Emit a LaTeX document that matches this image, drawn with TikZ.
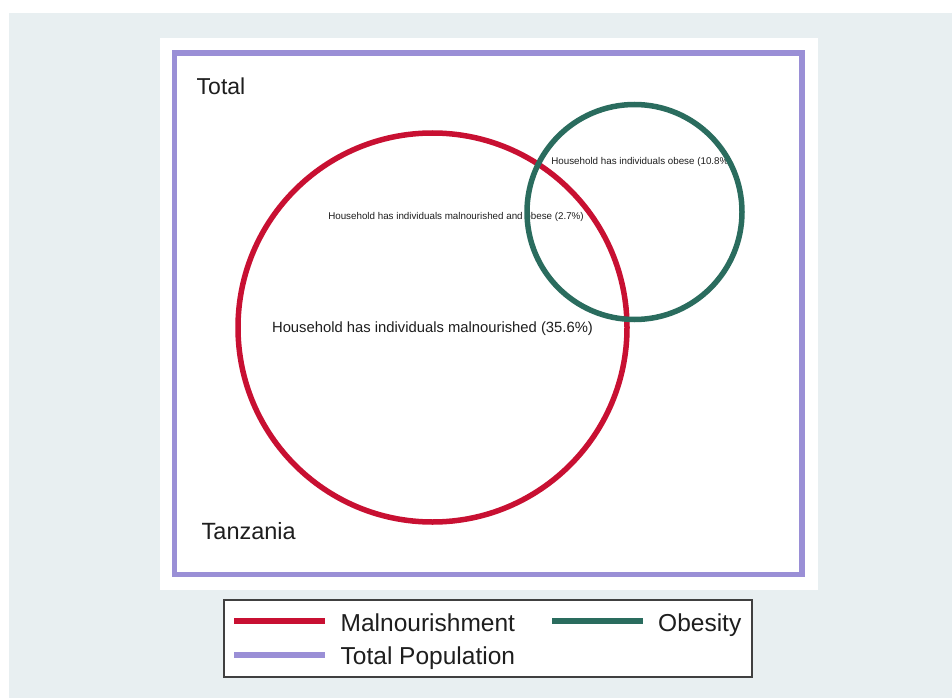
\documentclass[tikz,border=0pt]{standalone}
\usepackage{fontspec}
\setmainfont{Liberation Sans}
\definecolor{bgray}{RGB}{232,239,241}
\definecolor{malred}{RGB}{200,16,50}
\definecolor{obgreen}{RGB}{42,108,94}
\definecolor{totpurple}{RGB}{154,143,214}
\definecolor{txt}{RGB}{30,30,30}
\tikzset{
  lbl/.style={inner sep=0pt, text=txt},
  venn/.style={circle, draw, inner sep=0pt, line width=5.5bp},
  legline/.style={line width=6bp},
}
\newcommand{\fsz}[1]{\fontsize{#1bp}{#1bp}\selectfont}
\begin{document}
\begin{tikzpicture}[x=1bp,y=-1bp]
\useasboundingbox (0,0) rectangle (952,698);
\fill[white] (0,0) rectangle (952,698);
\fill[bgray] (9,13) rectangle (952,698);
\fill[white] (159.5,38.3) rectangle (817.7,590);
% total population frame
\node[draw=totpurple, line width=5.6bp, inner sep=0pt, minimum width=627.5bp, minimum height=521.5bp] (frame) at (488.25,313.75) {};
\node[lbl, anchor=base west, font=\fsz{23}] (total) at (196.5,95) {Total};
\node[lbl, anchor=base west, font=\fsz{23.5}] (tanz) at (201.5,539) {Tanzania};
% labels
\node[lbl, font=\fsz{14.8}] (lmal) at (432.5,329) {Household has individuals malnourished (35.6\%)};
\node[lbl, font=\fsz{9.8}] (lboth) at (456,216.7) {Household has individuals malnourished and obese (2.7\%)};
\node[lbl, font=\fsz{9.8}] (lob) at (641.5,162) {Household has individuals obese (10.8\%)};
% circles
\node[venn, draw=malred, minimum size=389bp] (mal) at (432.5,327.5) {};
\node[venn, draw=obgreen, minimum size=215bp] (ob) at (634.5,212) {};
% legend
\node[draw=black!75, line width=1.3bp, fill=white, inner sep=0pt, minimum width=528bp, minimum height=77bp] (legend) at (488,638.5) {};
\coordinate (r1) at (234,621);
\coordinate (r2) at (325,621);
\coordinate (g1) at (552.3,621);
\coordinate (g2) at (642.7,621);
\coordinate (p1) at (234,655.3);
\coordinate (p2) at (325,655.3);
\draw[legline, malred] (r1) -- (r2);
\draw[legline, obgreen] (g1) -- (g2);
\draw[legline, totpurple] (p1) -- (p2);
\node[lbl, anchor=base west, font=\fsz{24.5}] (tmal) at (340.5,631) {Malnourishment};
\node[lbl, anchor=base west, font=\fsz{24.5}] (tob) at (658,631) {Obesity};
\node[lbl, anchor=base west, font=\fsz{24.5}] (ttot) at (340.5,664.5) {Total Population};
\end{tikzpicture}
\end{document}
